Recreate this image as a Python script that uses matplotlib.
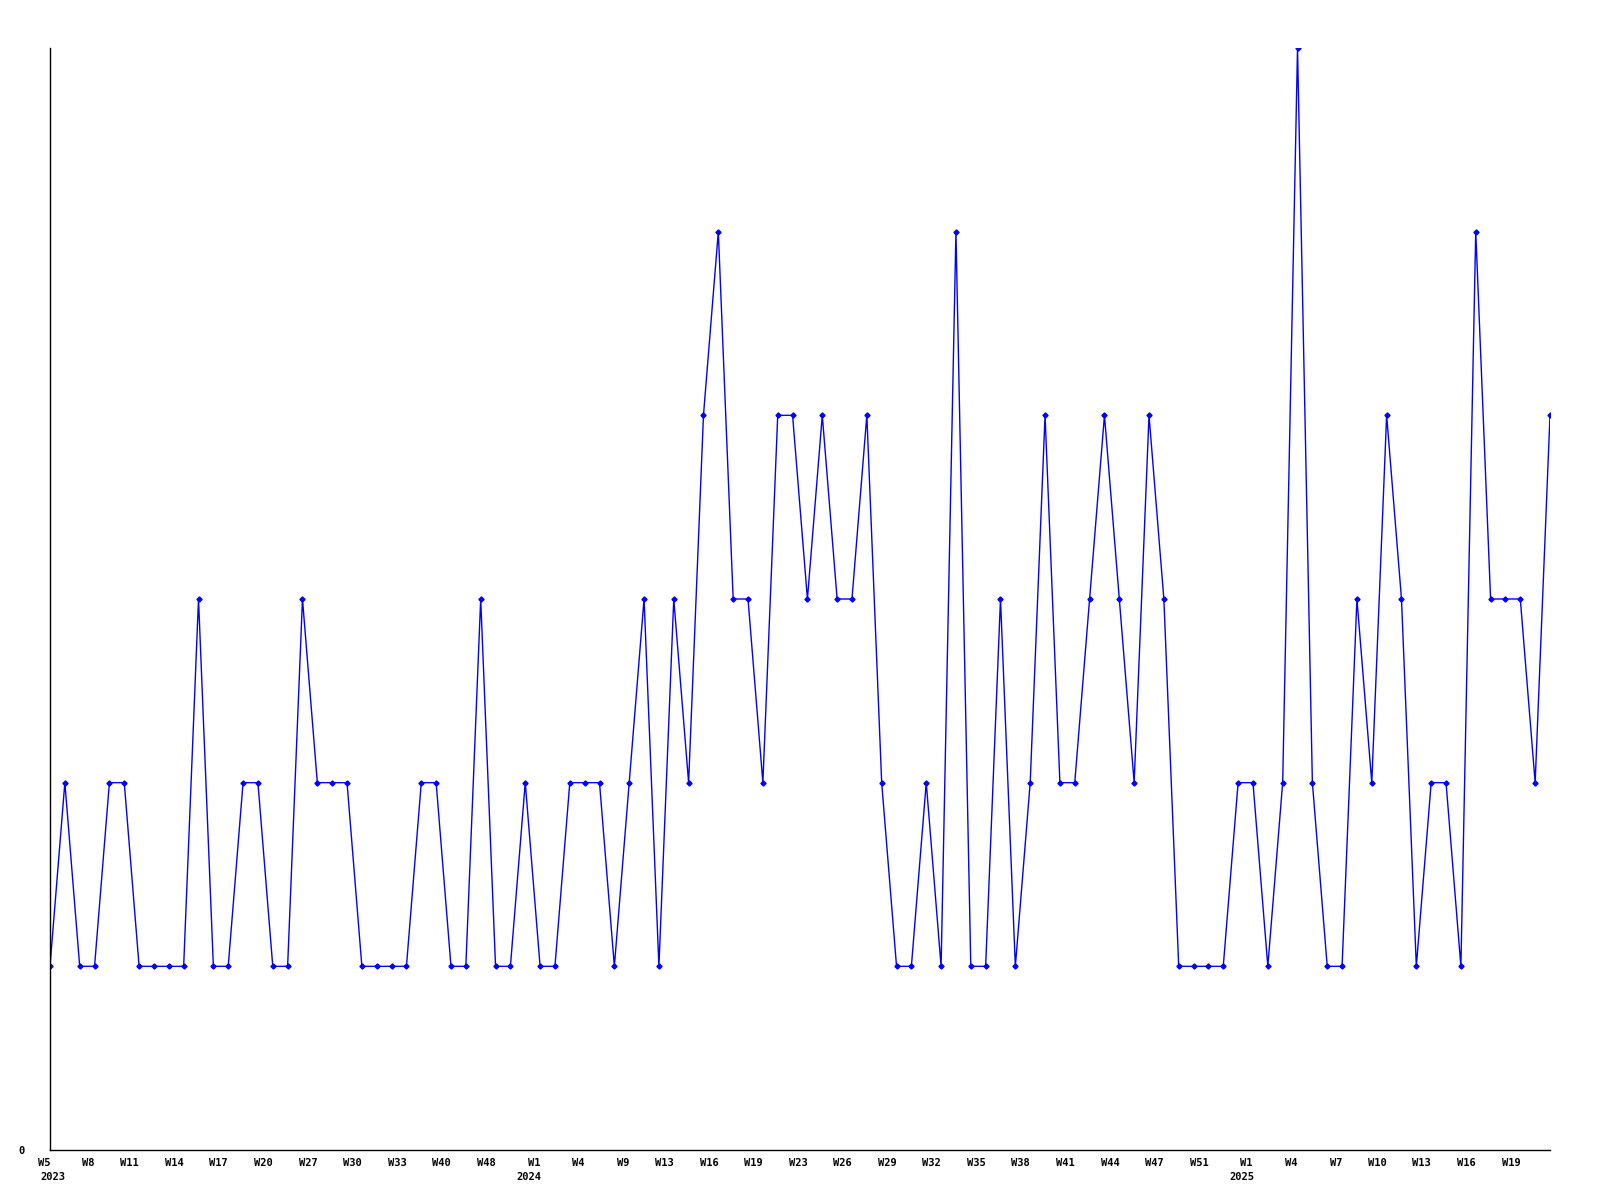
import matplotlib

matplotlib.use("Agg")
import matplotlib.pyplot as plt
import numpy as np

# Weekly counts, one entry per week that has data (x is categorical).
years = [2023] * 33 + [2024] * 48 + [2025] * 21
weeks = (
    [5, 6, 7, 8, 9, 10, 11, 12, 13, 14, 15, 16, 17, 18, 19, 20, 21, 23,
     27, 28, 29, 30, 31, 32, 33, 36, 38, 40, 43, 46, 48, 49, 51]
    + [1, 2, 3, 4, 6, 7, 9, 10, 12, 13, 14, 15, 16, 17, 18, 19, 20, 22,
       23, 24, 25, 26, 27, 28, 29, 30, 31, 32, 33, 34, 35, 36, 37, 38,
       39, 40, 41, 42, 43, 44, 45, 46, 47, 48, 50, 51, 52, 53]
    + list(range(1, 22))
)
counts = [
    1, 2, 1, 1, 2, 2, 1, 1, 1, 1,
    3, 1, 1, 2, 2, 1, 1, 3, 2, 2,
    2, 1, 1, 1, 1, 2, 2, 1, 1, 3,
    1, 1, 2, 1, 1, 2, 2, 2, 1, 2,
    3, 1, 3, 2, 4, 5, 3, 3, 2, 4,
    4, 3, 4, 3, 3, 4, 2, 1, 1, 2,
    1, 5, 1, 1, 3, 1, 2, 4, 2, 2,
    3, 4, 3, 2, 4, 3, 1, 1, 1, 1,
    2, 2, 1, 2, 6, 2, 1, 1, 3, 2,
    4, 3, 1, 2, 2, 1, 5, 3, 3, 3,
    2, 4,
]
LABEL_EVERY = 3

FONT = dict(fontfamily="DejaVu Sans Mono", fontweight="bold", fontsize=7.5)
PX = 0.72  # points per pixel at dpi 100

fig = plt.figure(figsize=(16, 12), dpi=100, facecolor="white")
ax = fig.add_axes([50 / 1600, 50 / 1200, 1500 / 1600, 1102 / 1200])

x = np.arange(len(counts))
ax.plot(x, counts, "-", color="#0000ff", lw=1.0, marker="D", ms=2.6,
        mec="#0000ff", mfc="#0000ff")

ax.set_xlim(0, len(counts) - 1)
ax.set_ylim(0, max(counts))

# week label on every 3rd point, ending at the point
ticks = list(range(0, len(counts), LABEL_EVERY))
ax.set_xticks(ticks)
ax.set_xticklabels([f"W{weeks[i]}" for i in ticks], ha="right", **FONT)
ax.tick_params(axis="x", length=0, pad=6)

# year under the first label of each year
seen = set()
for i in ticks:
    if years[i] in seen:
        continue
    seen.add(years[i])
    first = i == 0
    ax.annotate(str(years[i]), xy=(i, 0), xycoords=("data", "axes fraction"),
                xytext=((-10 if first else 1) * PX, -27 * PX),
                textcoords="offset points", ha="left" if first else "right",
                va="center", annotation_clip=False, **FONT)

ax.set_yticks([0])
ax.set_yticklabels(["0"], **FONT)
ax.tick_params(axis="y", length=0, pad=18)

for side in ("top", "right"):
    ax.spines[side].set_visible(False)
for side in ("left", "bottom"):
    ax.spines[side].set_color("black")
    ax.spines[side].set_linewidth(1.0)

fig.savefig("out.png", dpi=100, facecolor="white")
